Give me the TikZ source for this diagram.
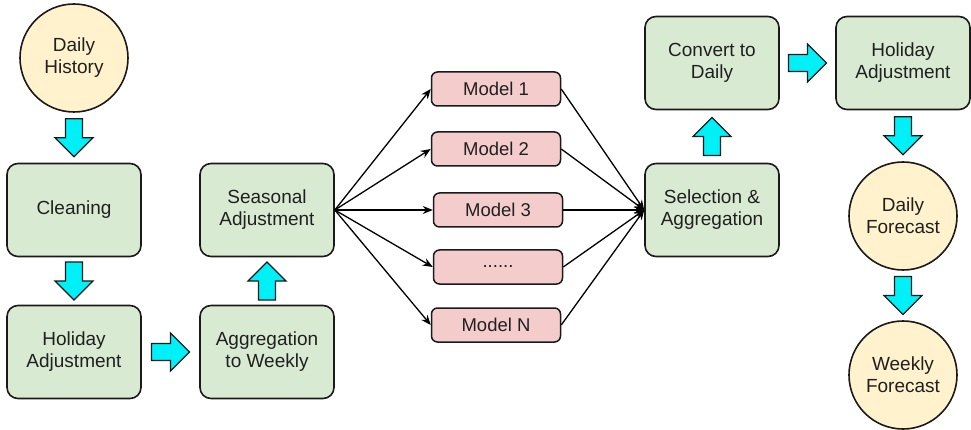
\documentclass[tikz,border=0pt]{standalone}
\usepackage{fontspec}
\setmainfont{Liberation Sans}
\usetikzlibrary{calc,arrows.meta}
\definecolor{gfill}{HTML}{D9EAD3}
\definecolor{yfill}{HTML}{FFF2CC}
\definecolor{pfill}{HTML}{F4CCCC}
\definecolor{afill}{HTML}{00F0F8}
\definecolor{txt}{HTML}{202020}
\definecolor{edge}{HTML}{1A1A1A}
\tikzset{
  gbox/.style={draw=edge, line width=1.6pt, fill=gfill, rounded corners=11pt,
    minimum width=134pt, minimum height=93pt, align=center, text=txt,
    font=\fontsize{19}{22}\selectfont},
  ycirc/.style={draw=edge, line width=1.6pt, fill=yfill, circle, minimum size=108pt,
    inner sep=0pt, align=center, text=txt, font=\fontsize{19}{22}\selectfont},
  mbox/.style={draw=edge, line width=1.5pt, fill=pfill, rounded corners=6pt,
    minimum width=129pt, minimum height=34pt, align=center, text=txt,
    font=\fontsize{18.5}{22}\selectfont},
  link/.style={draw=black, line width=1.3pt, -{Stealth[length=10pt,width=8pt]}},
  barrow/.pic={\draw[fill=afill, draw=edge, line width=1.3pt, line join=miter]
     (-19,-8.5) -- (0,-8.5) -- (0,-19) -- (19,0) -- (0,19) -- (0,8.5) -- (-19,8.5) -- cycle;}
}
\begin{document}
\begin{tikzpicture}[x=1pt,y=-1pt]
\useasboundingbox (0,0) rectangle (971,430);
% left column
\node[ycirc] (dh) at (74,58) {Daily\\History};
\node[gbox] (cl) at (74,210) {Cleaning};
\node[gbox] (ha1) at (74,352) {Holiday\\Adjustment};
\node[gbox] (agg) at (267,352) {Aggregation\\to Weekly};
\node[gbox] (sea) at (267,210) {Seasonal\\Adjustment};
% models
\node[mbox] (m1) at (496,89) {Model 1};
\node[mbox] (m2) at (496,149) {Model 2};
\node[mbox] (m3) at (498,210) {Model 3};
\node[mbox] (m4) at (498,267) {......};
\node[mbox] (mn) at (496,325) {Model N};
% right part
\node[gbox] (sel) at (712,210) {Selection \&\\Aggregation};
\node[gbox] (cd) at (712,63) {Convert to\\Daily};
\node[gbox] (ha2) at (903,63) {Holiday\\Adjustment};
\node[ycirc] (df) at (903,216) {Daily\\Forecast};
\node[ycirc] (wf) at (903,375) {Weekly\\Forecast};
% block arrows
\pic[rotate=-90] at ($(dh.south)!0.5!(cl.north)$) {barrow};
\pic[rotate=-90] at ($(cl.south)!0.5!(ha1.north)$) {barrow};
\pic at ($(ha1.east)!0.5!(agg.west)$) {barrow};
\pic[rotate=90] at ($(agg.north)!0.5!(sea.south)$) {barrow};
\pic[rotate=90] at ($(sel.north)!0.5!(cd.south)$) {barrow};
\pic at ($(cd.east)!0.5!(ha2.west)$) {barrow};
\pic[rotate=-90] at ($(ha2.south)!0.5!(df.north)$) {barrow};
\pic[rotate=-90] at ($(df.south)!0.5!(wf.north)$) {barrow};
% model links
\foreach \m in {m1,m2,m3,m4,mn}{
  \draw[link] (sea.east) -- (\m.west);
  \draw[link] (\m.east) -- (sel.west);
}
\end{tikzpicture}
\end{document}
